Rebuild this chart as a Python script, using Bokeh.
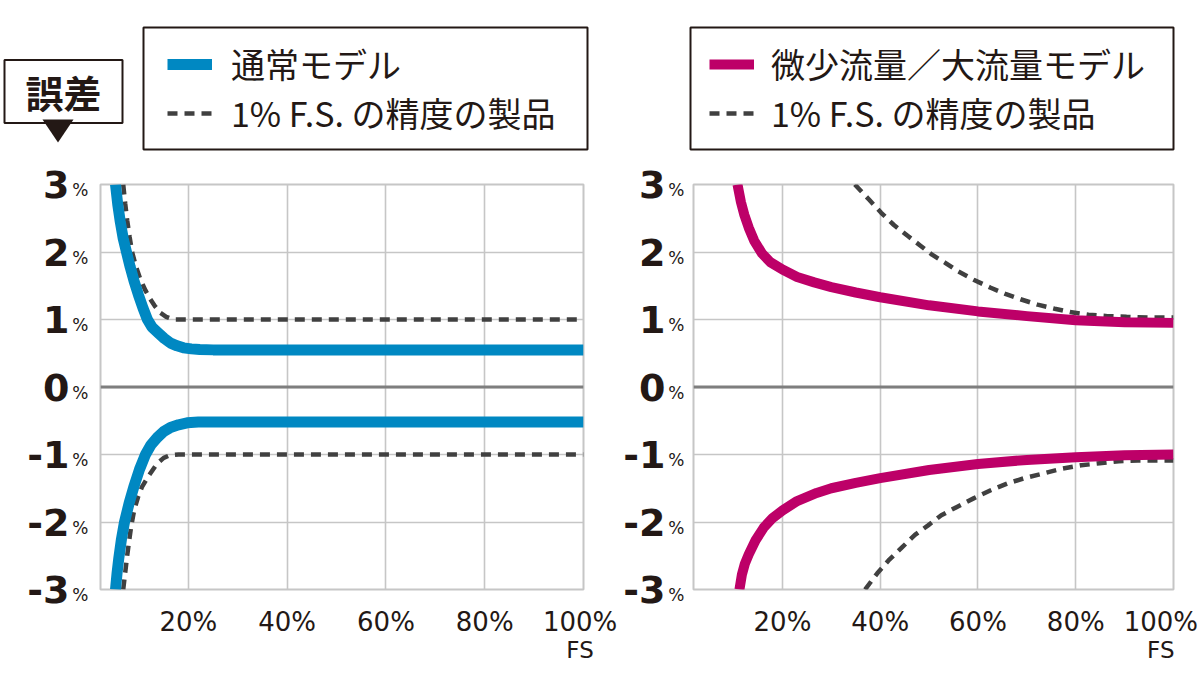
from bokeh.plotting import figure
from bokeh.layouts import row, column
from bokeh.models import (Range1d, LinearAxis, FixedTicker, Legend, LegendItem,
                          Label, PolyAnnotation, BoxAnnotation, Span)
from bokeh.embed import file_html
from bokeh.resources import INLINE

# ---------------- data ----------------
y_ticks = [-3, -2, -1, 0, 1, 2, 3]
y_tick_labels = ["-3", "-2", "-1", "0", "1", "2", "3"]
y_unit = "%"
x_grid_ticks = [20, 40, 60, 80]
x_tick_labels = ["20%", "40%", "60%", "80%", "100%"]
x_ticks_left = [20, 40, 60, 80, 99.3]    # last label pulled in slightly, as in the original
x_ticks_right = [20, 40, 60, 80, 97.4]
fs_label = "FS"

error_title = "誤差"
legend_std = "通常モデル"
legend_flow = "微少流量／大流量モデル"
legend_ref = "1% F.S. の精度の製品"

# left chart: standard model
std_hi_x = [5.24, 5.7, 6.2, 6.8, 7.46, 8.2, 9.0, 9.9, 10.8, 11.7, 12.6, 13.9, 15.1, 16.4, 17.7, 19.0, 20.6, 22.3, 25.0, 100]
std_hi_y = [3.0, 2.7, 2.45, 2.2, 2.0, 1.78, 1.57, 1.36, 1.17, 1.0, 0.89, 0.8, 0.72, 0.65, 0.61, 0.58, 0.565, 0.555, 0.55, 0.55]
std_lo_x = [5.24, 5.55, 5.9, 6.45, 7.06, 8.0, 8.94, 10.1, 11.31, 12.4, 13.68, 15.0, 16.37, 18.0, 19.75, 22.0, 100]
std_lo_y = [-3.0, -2.76, -2.54, -2.25, -2.0, -1.72, -1.48, -1.22, -1.0, -0.86, -0.75, -0.66, -0.6, -0.56, -0.53, -0.52, -0.52]
ref1_hi_x = [6.8, 7.2, 7.6, 8.1, 8.6, 9.4, 10.3, 11.3, 12.3, 13.3, 14.3, 15.5, 17.0, 100]
ref1_hi_y = [3.0, 2.72, 2.47, 2.22, 2.0, 1.78, 1.59, 1.43, 1.3, 1.19, 1.1, 1.04, 1.0, 1.0]
ref1_lo_x = [6.8, 7.2, 7.6, 8.0, 8.4, 9.0, 9.8, 10.6, 12.0, 13.6, 15.0, 16.3, 18.0, 100]
ref1_lo_y = [-3.0, -2.75, -2.5, -2.28, -2.07, -1.83, -1.63, -1.48, -1.31, -1.14, -1.05, -1.01, -1.0, -1.0]

# right chart: micro / large flow model
flow_hi_x = [10.8, 11.5, 12.2, 13.1, 14.2, 15.8, 17.5, 20.0, 23.0, 26.5, 30.0, 35.0, 40.0, 50.0, 60.0, 70.0, 80.0, 90.0, 100.0]
flow_hi_y = [3.0, 2.74, 2.55, 2.36, 2.17, 1.98, 1.85, 1.74, 1.63, 1.55, 1.48, 1.40, 1.33, 1.21, 1.12, 1.05, 0.99, 0.96, 0.95]
flow_lo_x = [11.2, 11.7, 12.3, 13.1, 14.5, 16.2, 18.0, 20.0, 23.0, 27.0, 30.0, 35.0, 40.0, 50.0, 60.0, 70.0, 80.0, 90.0, 100.0]
flow_lo_y = [-3.0, -2.78, -2.62, -2.48, -2.27, -2.08, -1.94, -1.83, -1.69, -1.57, -1.5, -1.42, -1.35, -1.23, -1.14, -1.08, -1.04, -1.01, -1.0]
ref2_hi_x = [34.8, 37.8, 40.2, 42.8, 45.6, 48.3, 50.6, 53.3, 56.0, 59.1, 62.6, 65.6, 68.7, 72.2, 75.7, 78.8, 82.6, 86.5, 90.4, 95.0, 100]
ref2_hi_y = [3.0, 2.77, 2.58, 2.40, 2.24, 2.09, 1.96, 1.84, 1.71, 1.59, 1.47, 1.38, 1.30, 1.22, 1.16, 1.11, 1.07, 1.05, 1.04, 1.03, 1.03]
ref2_lo_x = [36.9, 39.4, 41.7, 44.4, 47.1, 49.8, 52.5, 55.6, 59.1, 62.6, 66.0, 69.5, 73.4, 77.2, 81.1, 84.9, 88.8, 92.7, 97.3, 100]
ref2_lo_y = [-3.0, -2.76, -2.57, -2.38, -2.19, -2.05, -1.9, -1.78, -1.65, -1.53, -1.43, -1.35, -1.28, -1.21, -1.16, -1.13, -1.10, -1.09, -1.09, -1.09]

# ---------------- style ----------------
BLUE = "#0088c2"
MAGENTA = "#bd0068"
DASH = "#404040"
INK = "#231815"
GRID = "#c6c6c6"
ZERO = "#7e7e7e"
CJK = "Noto Sans CJK JP"
NUM = "DejaVu Sans"
BLUE_STYLE = dict(line_color=BLUE, line_width=11, line_join="round")
FLOW_STYLE = dict(line_color=MAGENTA, line_width=10, line_join="round")
DASH_STYLE = dict(line_color=DASH, line_width=4.5, line_dash="10 7")

HEADER_H = 155
PLOT_H = 686 - HEADER_H


def no_ticks(a):
    a.axis_line_color = None
    a.major_tick_line_color = None
    a.minor_tick_line_color = None
    a.major_tick_out = 0
    a.major_tick_in = 0
    a.minor_tick_out = 0
    a.minor_tick_in = 0


def make_fig(width, left, right, xstart, xticks, pct_standoff):
    p = figure(width=width, height=PLOT_H, x_range=Range1d(xstart, 100), y_range=Range1d(-3, 3),
               output_backend="svg", toolbar_location=None,
               min_border_left=left, min_border_right=right,
               min_border_top=29, min_border_bottom=97)
    p.background_fill_color = "white"
    p.border_fill_color = "white"
    p.outline_line_color = GRID
    p.outline_line_width = 2

    p.xgrid.ticker = FixedTicker(ticks=x_grid_ticks)
    p.ygrid.ticker = FixedTicker(ticks=y_ticks)
    for g in (p.xgrid[0], p.ygrid[0]):
        g.grid_line_color = GRID
        g.grid_line_width = 1.6

    # small "%" next to each y value (inner axis)
    ya = p.yaxis[0]
    ya.ticker = FixedTicker(ticks=y_ticks)
    ya.major_label_overrides = {t: "\n" + y_unit for t in y_ticks}
    ya.major_label_text_font = NUM
    ya.major_label_text_font_size = "17px"
    ya.major_label_text_line_height = 0.55
    ya.major_label_text_color = INK
    ya.major_label_standoff = pct_standoff
    no_ticks(ya)

    # big digits (outer axis)
    ynum = LinearAxis(ticker=FixedTicker(ticks=y_ticks),
                      major_label_overrides=dict(zip(y_ticks, y_tick_labels)),
                      major_label_text_font=NUM, major_label_text_font_size="38px",
                      major_label_text_font_style="bold", major_label_text_color=INK,
                      major_label_standoff=0)
    no_ticks(ynum)
    p.add_layout(ynum, "left")

    xa = p.xaxis[0]
    xa.ticker = FixedTicker(ticks=xticks)
    xa.major_label_overrides = dict(zip(xticks, x_tick_labels))
    xa.major_label_text_font = NUM
    xa.major_label_text_font_size = "26px"
    xa.major_label_text_color = INK
    xa.major_label_standoff = 17
    no_ticks(xa)

    xfs = LinearAxis(ticker=FixedTicker(ticks=[xticks[-1]]),
                     major_label_overrides={xticks[-1]: fs_label},
                     major_label_text_font=NUM, major_label_text_font_size="23px",
                     major_label_text_color=INK, major_label_standoff=-3)
    no_ticks(xfs)
    p.add_layout(xfs, "below")

    p.add_layout(Span(location=0, dimension="width", line_color=ZERO, line_width=3, level="underlay"))
    return p


# ---------------- left chart ----------------
p1 = make_fig(620, 100, 37, 2.2, x_ticks_left, 12)
p1.line(ref1_hi_x, ref1_hi_y, **DASH_STYLE)
p1.line(ref1_lo_x, ref1_lo_y, **DASH_STYLE)
p1.line(std_hi_x, std_hi_y, **BLUE_STYLE)
p1.line(std_lo_x, std_lo_y, **BLUE_STYLE)

# ---------------- right chart ----------------
p2 = make_fig(580, 68, 27, 1.8, x_ticks_right, 9)
p2.line(ref2_hi_x, ref2_hi_y, **DASH_STYLE)
p2.line(ref2_lo_x, ref2_lo_y, **DASH_STYLE)
p2.line(flow_hi_x, flow_hi_y, **FLOW_STYLE)
p2.line(flow_lo_x, flow_lo_y, **FLOW_STYLE)

# ---------------- header: legends and the "誤差" tag ----------------
h = figure(width=1200, height=HEADER_H, x_range=Range1d(0, 1), y_range=Range1d(0, 1),
           output_backend="svg", toolbar_location=None,
           x_axis_location=None, y_axis_location=None,
           min_border_left=0, min_border_right=0, min_border_top=0, min_border_bottom=0)
h.outline_line_color = None
h.xgrid.visible = False
h.ygrid.visible = False
h.background_fill_color = "white"
h.border_fill_color = "white"

# legend keys: same line styles as the chart lines, no visible data of their own
nan = float("nan")
key_blue = h.line([nan], [nan], **BLUE_STYLE)
key_flow = h.line([nan], [nan], **FLOW_STYLE)
key_dash = h.line([nan], [nan], **DASH_STYLE)

# legend frames (screen px inside the header, y measured up from its bottom)
BOX = dict(left_units="screen", right_units="screen", top_units="screen", bottom_units="screen",
           fill_alpha=0, line_color=INK, line_alpha=1.0, line_width=2)
h.add_layout(BoxAnnotation(left=143, right=587, top=HEADER_H - 27, bottom=HEADER_H - 149, **BOX))
h.add_layout(BoxAnnotation(left=690, right=1173, top=HEADER_H - 27, bottom=HEADER_H - 149, **BOX))

LEG = dict(border_line_color=None, background_fill_alpha=0.0,
           label_text_font=CJK, label_text_font_size="34px", label_text_color=INK,
           glyph_width=45, glyph_height=20, spacing=0, padding=0, margin=0)
h.add_layout(Legend(items=[LegendItem(label=legend_std, renderers=[key_blue]),
                           LegendItem(label=legend_ref, renderers=[key_dash])],
                    location=(167, HEADER_H - 137), label_standoff=19, **LEG))
h.add_layout(Legend(items=[LegendItem(label=legend_flow, renderers=[key_flow]),
                           LegendItem(label=legend_ref, renderers=[key_dash])],
                    location=(709, HEADER_H - 137), label_standoff=17, **LEG))

h.add_layout(Label(x=63, y=HEADER_H - 91, x_units="screen", y_units="screen", text=error_title,
                   text_font=CJK, text_font_size="38px", text_font_style="bold",
                   text_color=INK, text_align="center", text_baseline="middle",
                   border_line_color=INK, border_line_width=2,
                   background_fill_color="white",
                   padding=dict(left=21, right=21, top=4, bottom=4)))
h.add_layout(PolyAnnotation(xs=[42, 73, 57.5], ys=[HEADER_H - 119, HEADER_H - 119, HEADER_H - 142],
                            xs_units="screen", ys_units="screen",
                            fill_color=INK, fill_alpha=1.0, line_color=None))

layout = column(h, row(p1, p2))
open("out.html", "w").write(file_html(layout, INLINE))
